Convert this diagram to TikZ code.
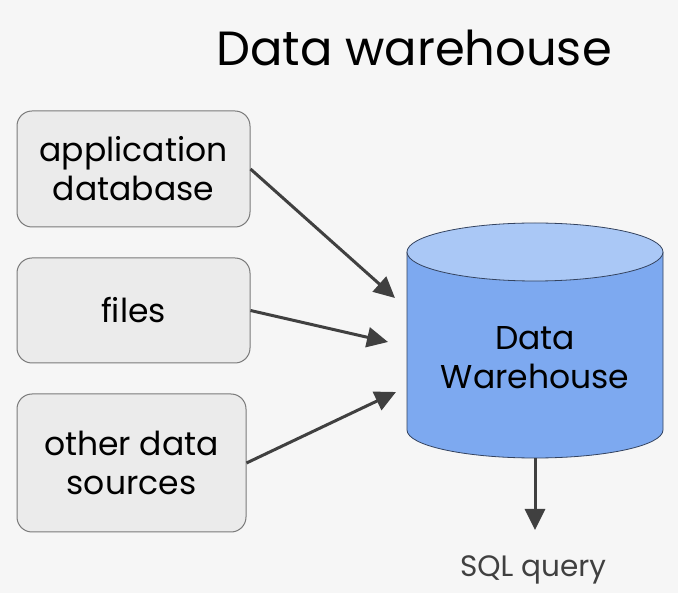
\documentclass[tikz,border=0pt]{standalone}
\usepackage{fontspec}
\setmainfont{Poppins}
\usetikzlibrary{arrows.meta}

\definecolor{bgcol}{HTML}{F6F6F6}
\definecolor{boxfill}{HTML}{EBEBEB}
\definecolor{boxline}{HTML}{7A7A7A}
\definecolor{dwbody}{HTML}{7DA9F0}
\definecolor{dwtop}{HTML}{AAC8F6}
\definecolor{dwline}{HTML}{34435F}
\definecolor{arrowcol}{HTML}{404040}

\tikzset{
  source/.style={draw=boxline, fill=boxfill, rounded corners=15pt, line width=1pt,
    align=center, font=\fontsize{33}{39}\selectfont},
  feed/.style={draw=arrowcol, line width=3pt, -{Triangle[length=21pt,width=20pt]}}
}

\begin{document}
\begin{tikzpicture}[x=1pt,y=-1pt]
  \fill[bgcol] (0,0) rectangle (678,593);
  \useasboundingbox (0,0) rectangle (678,593);

  \node[font=\fontsize{48}{54}\selectfont] (title) at (414,48) {Data warehouse};

  \node[source, minimum width=233pt, minimum height=116pt] (appdb) at (133.5,169) {application\\database};
  \node[source, minimum width=233pt, minimum height=105pt] (files) at (133.5,310.5) {files};
  \node[source, minimum width=229pt, minimum height=138pt] (other) at (131.5,463) {other data\\sources};

  \draw[dwline, fill=dwbody, line width=0.8pt] (407,252) -- (407,430)
    arc[start angle=180, end angle=0, x radius=128, y radius=28]
    -- (663,252);
  \draw[dwline, fill=dwtop, line width=0.8pt] (535,252) ellipse[x radius=128, y radius=29];
  \node[align=center, font=\fontsize{33}{39}\selectfont] (dw) at (535,358) {Data\\Warehouse};

  \coordinate (in1) at (395,298);
  \coordinate (in2) at (388,342);
  \coordinate (in3) at (396,392);
  \coordinate (dwout) at (535,458);
  \coordinate (query) at (535,530);
  \node[text=arrowcol, font=\fontsize{29.5}{34}\selectfont] (sql) at (533,570) {SQL query};

  \draw[feed] (appdb.east) -- (in1);
  \draw[feed] (files.east) -- (in2);
  \draw[feed] (other.east) -- (in3);
  \draw[feed] (dwout) -- (query);
\end{tikzpicture}
\end{document}
